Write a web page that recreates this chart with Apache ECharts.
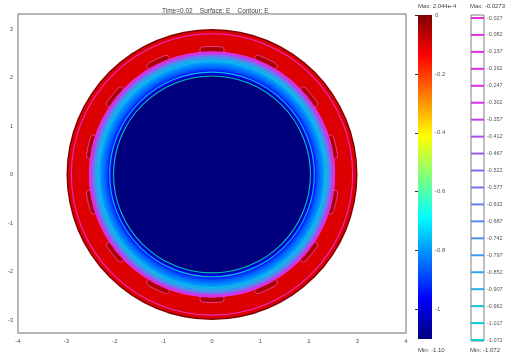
<!DOCTYPE html>
<html><head><meta charset="utf-8">
<script src="https://cdn.jsdelivr.net/npm/echarts@6/dist/echarts.min.js"></script>
<style>html,body{margin:0;padding:0;background:#fff}#c{width:508px;height:360px}</style>
</head><body><div id="c"></div>
<script>
// ---- data ----
const xTicks = [-4, -3, -2, -1, 0, 1, 2, 3, 4];
const yTicks = [-3, -2, -1, 0, 1, 2, 3];
const surfaceTicks = [0, -0.2, -0.4, -0.6, -0.8, -1];
const surfaceMin = -1.10;
const contourLevels = [-0.027, -0.082, -0.137, -0.192, -0.247, -0.302, -0.357, -0.412, -0.467, -0.522,
  -0.577, -0.632, -0.687, -0.742, -0.797, -0.852, -0.907, -0.962, -1.017, -1.072];
// radial surface profile: outer radius of each disk (outside -> inside) and E value
const ringRadius = [3.00, 2.97, 2.53, 2.32, 2.27, 2.22, 2.18, 2.15, 2.11, 2.08, 2.05];
const ringE      = [0.00, -0.10, -0.78, -0.80, -0.83, -0.86, -0.89, -0.93, -0.97, -1.02, -1.10];
// radius at which each contour level lies
const contourRadius = [2.90, 2.53, 2.52, 2.51, 2.50, 2.49, 2.48, 2.47, 2.46, 2.45,
  2.44, 2.43, 2.42, 2.41, 2.40, 2.38, 2.36, 2.33, 2.11, 2.03];
// small local pockets in the red band
const bumpAngle = [90, 115.7, 141.4, 167.1, 192.9, 218.6, 244.3, 270, 295.7, 321.4, 347.1, 12.9, 38.6, 64.3];
const bumpRadius = [2.57, 2.57, 2.56, 2.55, 2.55, 2.56, 2.57, 2.57, 2.57, 2.56, 2.55, 2.55, 2.56, 2.57];
const bumpE = [-0.04, -0.04, -0.04, -0.04, -0.04, -0.04, -0.04, -0.04, -0.04, -0.04, -0.04, -0.04, -0.04, -0.04];

// ---- styles ----
const jet = ['#00007f', '#0000ff', '#007fff', '#00ffff', '#7fff7f', '#ffff00', '#ff7f00', '#ff0000', '#7f0000'];
const contourColors = ['#00d4d4', '#3a9af0', '#7a70f0', '#d830e8', '#e830e0'];
const FONT = 'Liberation Sans';
const bumpHalfDeg = 5.6, bumpHalfWidth = 0.07;

const ringData = ringRadius.map((r, i) => [r, ringE[i]]);
const contourData = contourLevels.map((l, i) => [l, contourRadius[i]]);
const bumpData = bumpAngle.map((a, i) => [a, bumpRadius[i], bumpE[i]]);
const legendData = contourLevels.map(l => [l]);

const chart = echarts.init(document.getElementById('c'));
const lbl = {fontSize: 6, color: '#555', fontFamily: FONT};
chart.setOption({
  animation: false,
  backgroundColor: '#fff',
  title: {text: 'Time=0.02    Surface: E    Contour: E', left: 157, top: 3,
    textStyle: {fontSize: 6.5, fontWeight: 'normal', color: '#444', fontFamily: FONT}},
  grid: [
    {left: 18, top: 14, width: 388, height: 319, show: true, borderColor: '#a0a0a0', borderWidth: 1.5},
    {left: 418, top: 15, width: 14, height: 324, show: false},
    {left: 471, top: 15, width: 13, height: 326, show: true, borderColor: '#808080', borderWidth: 1}
  ],
  xAxis: [
    {gridIndex: 0, type: 'value', min: -4, max: 4, interval: 1, splitLine: {show: false},
      axisLine: {show: false}, axisTick: {show: false},
      axisLabel: Object.assign({margin: 5, customValues: xTicks}, lbl)},
    {gridIndex: 1, type: 'value', min: 0, max: 1, show: false},
    {gridIndex: 2, type: 'value', min: 0, max: 1, show: false}
  ],
  yAxis: [
    {gridIndex: 0, type: 'value', min: -3.27, max: 3.31, splitLine: {show: false},
      axisLine: {show: false}, axisTick: {show: false},
      axisLabel: Object.assign({margin: 5, customValues: yTicks}, lbl)},
    {gridIndex: 1, type: 'value', min: surfaceMin, max: 0, position: 'right', splitLine: {show: false},
      axisLine: {show: false},
      axisTick: {show: true, inside: true, length: 3, customValues: surfaceTicks, lineStyle: {color: '#333'}},
      axisLabel: Object.assign({margin: 3, customValues: surfaceTicks, formatter: v => String(v)}, lbl)},
    {gridIndex: 1, type: 'value', min: surfaceMin, max: 0, position: 'left', splitLine: {show: false},
      axisLine: {show: false},
      axisTick: {show: true, inside: true, length: 3, customValues: surfaceTicks, lineStyle: {color: '#333'}},
      axisLabel: {show: false}},
    {gridIndex: 2, type: 'value', min: -1.0752, max: -0.0173, position: 'right', splitLine: {show: false},
      axisLine: {show: false}, axisTick: {show: false},
      axisLabel: Object.assign({margin: 3, customValues: contourLevels, formatter: v => v.toFixed(3)}, lbl, {fontSize: 5.5})}
  ],
  visualMap: [
    {type: 'continuous', show: false, min: surfaceMin, max: 0, dimension: 1, seriesIndex: [0], inRange: {color: jet}},
    {type: 'continuous', show: false, min: surfaceMin, max: 0, dimension: 2, seriesIndex: [1], inRange: {color: jet}},
    {type: 'continuous', show: false, min: -1.072, max: -0.027, dimension: 0, seriesIndex: [2, 4], inRange: {color: contourColors}}
  ],
  graphic: [
    {type: 'text', left: 418, top: 3, style: {text: 'Max: 2.044e-4', fontSize: 6, fill: '#444', fontFamily: FONT}},
    {type: 'text', left: 418, top: 347, style: {text: 'Min: -1.10', fontSize: 6, fill: '#444', fontFamily: FONT}},
    {type: 'text', left: 470, top: 3, style: {text: 'Max: -0.0273', fontSize: 6, fill: '#444', fontFamily: FONT}},
    {type: 'text', left: 470, top: 347, style: {text: 'Min: -1.072', fontSize: 6, fill: '#444', fontFamily: FONT}}
  ],
  series: [
    { // surface disks (outer first)
      type: 'custom', xAxisIndex: 0, yAxisIndex: 0, z: 1, silent: true, data: ringData,
      renderItem: (p, api) => {
        const c = api.coord([0, 0]);
        const r = api.size([api.value(0), 0])[0];
        return {type: 'circle', shape: {cx: c[0], cy: c[1], r: r}, style: {fill: api.visual('color')}};
      }
    },
    { // pockets
      type: 'custom', xAxisIndex: 0, yAxisIndex: 0, z: 2, silent: true, data: bumpData,
      renderItem: (p, api) => {
        const c = api.coord([0, 0]);
        const th = api.value(0), R = api.value(1);
        const r0 = api.size([R - bumpHalfWidth, 0])[0], r1 = api.size([R + bumpHalfWidth, 0])[0];
        return {type: 'sector', shape: {cx: c[0], cy: c[1], r0: r0, r: r1,
            startAngle: -(th + bumpHalfDeg) * Math.PI / 180, endAngle: -(th - bumpHalfDeg) * Math.PI / 180,
            cornerRadius: 3.4},
          style: {fill: api.visual('color'), stroke: '#e8449c', lineWidth: 1, opacity: 0.9}};
      }
    },
    { // contour circles
      type: 'custom', xAxisIndex: 0, yAxisIndex: 0, z: 3, silent: true, data: contourData,
      renderItem: (p, api) => {
        const c = api.coord([0, 0]);
        const r = api.size([api.value(1), 0])[0];
        return {type: 'circle', shape: {cx: c[0], cy: c[1], r: r},
          style: {fill: 'none', stroke: api.visual('color'), lineWidth: 1.1, opacity: 0.9}};
      }
    },
    { // surface colorbar
      type: 'custom', xAxisIndex: 1, yAxisIndex: 1, z: 1, silent: true, data: [[0]],
      renderItem: (p, api) => {
        const a = api.coord([0, 0]), b = api.coord([1, surfaceMin]);
        const stops = jet.slice().reverse().map((col, i, arr) => ({offset: i / (arr.length - 1), color: col}));
        return {type: 'rect', shape: {x: a[0], y: a[1], width: b[0] - a[0], height: b[1] - a[1]},
          style: {fill: {type: 'linear', x: 0, y: 0, x2: 0, y2: 1, colorStops: stops}}};
      }
    },
    { // contour legend
      type: 'custom', xAxisIndex: 2, yAxisIndex: 3, z: 2, silent: true, data: legendData,
      renderItem: (p, api) => {
        const a = api.coord([0, api.value(0)]), b = api.coord([1, api.value(0)]);
        return {type: 'line', shape: {x1: a[0], y1: a[1], x2: b[0], y2: b[1]},
          style: {stroke: api.visual('color'), lineWidth: 2}};
      }
    }
  ]
});
</script></body></html>
